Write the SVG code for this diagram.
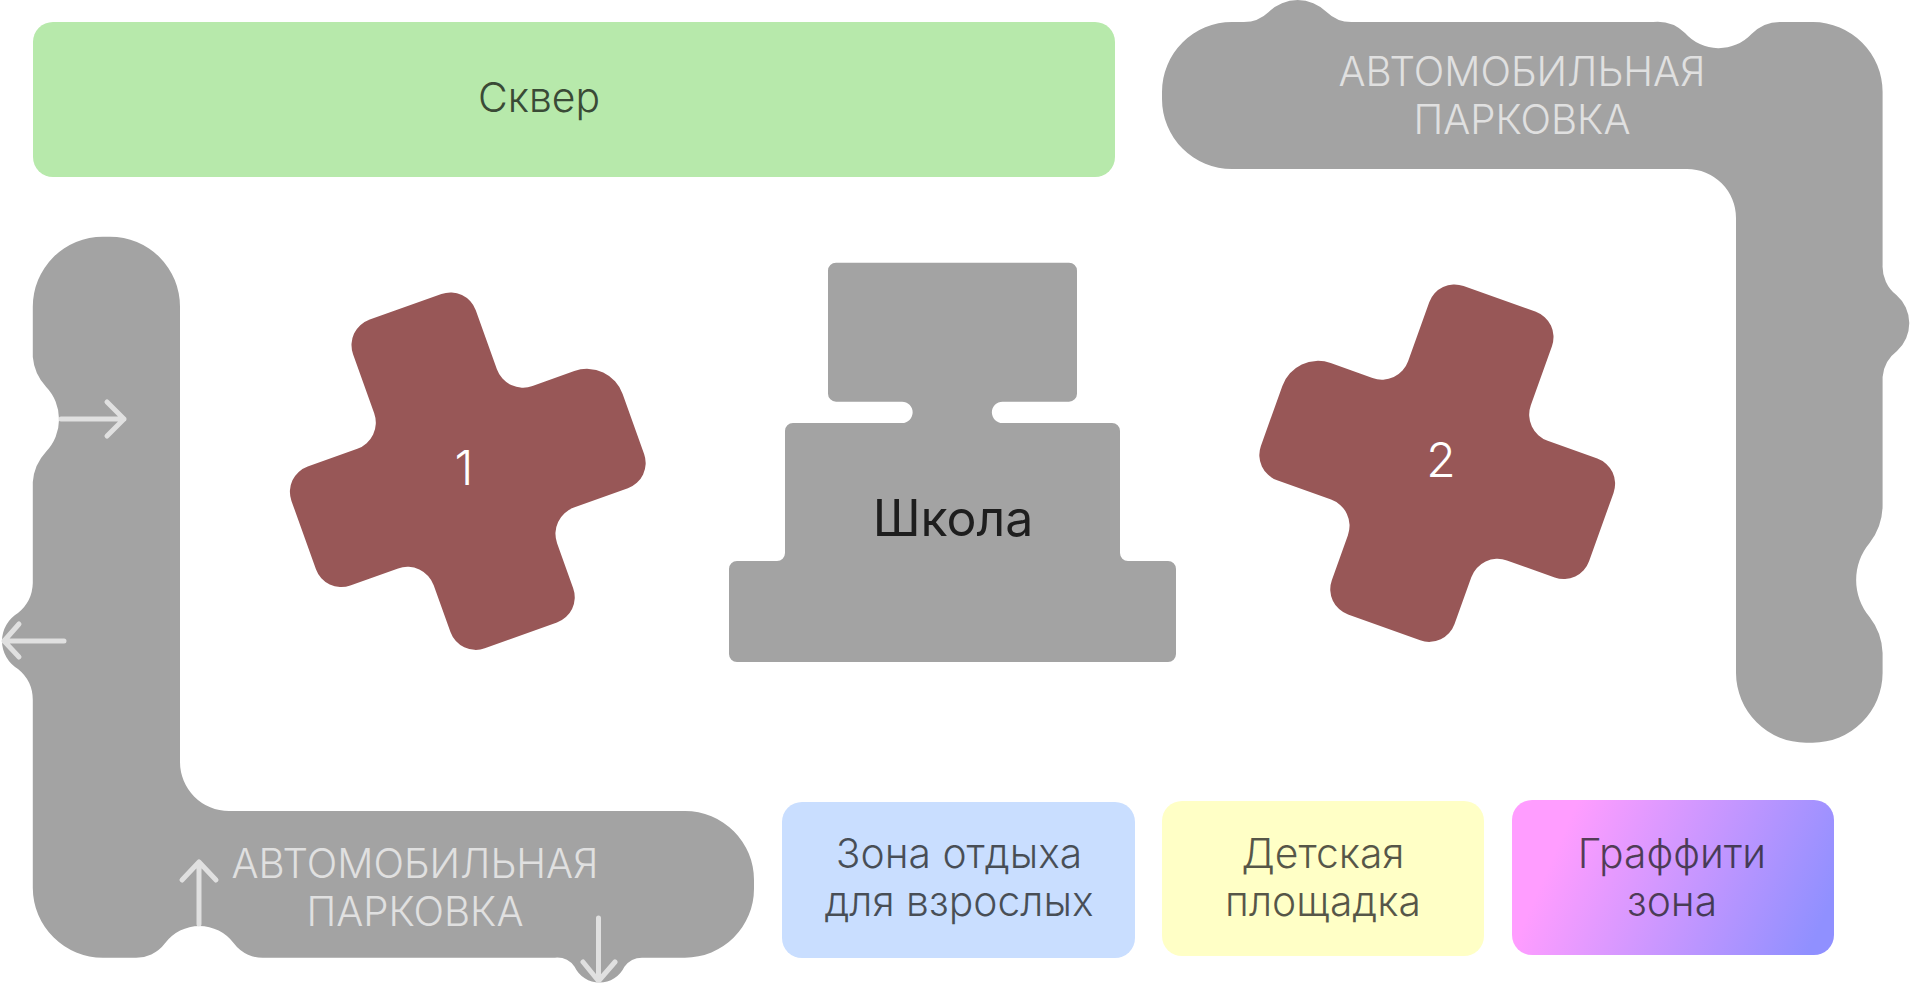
<svg xmlns="http://www.w3.org/2000/svg" xmlns:xlink="http://www.w3.org/1999/xlink" width="1910" height="983" viewBox="0 0 1910 983">
<style>
text{font-family:Inter,"Noto Sans",sans-serif;text-anchor:middle;font-weight:400}
.gray{fill:#a3a3a3}
.cross{fill:#985757}
.lbl{font-size:40.800px;font-weight:300}
.park{font-size:40.200px;font-weight:300;fill:#e0e0e0}
.num{font-size:48px;font-weight:300;fill:#fff}
.dark{fill:#1e1e1e;fill-opacity:.75}
.arr{fill:none;stroke:#e0e0e0;stroke-width:5;stroke-linecap:round;stroke-linejoin:round}
</style>
<defs>
<linearGradient id="gr" gradientUnits="userSpaceOnUse" x1="1560" y1="840" x2="1810" y2="950"><stop offset="0" stop-color="#ff9dff"/><stop offset="1" stop-color="#9090ff"/></linearGradient>
<path id="plus" d="M-46,-177H35A27,27 0 0 1 62,-150V-87A28,28 0 0 0 90,-59H134.600A38,38 0 0 1 172.600,-21V43A27,27 0 0 1 145.600,70H88A28,28 0 0 0 60,98V146A27,27 0 0 1 33,173H-44A27,27 0 0 1 -71,146V96A28,28 0 0 0 -99,68H-150A27,27 0 0 1 -177,41V-32A27,27 0 0 1 -150,-59H-97A28,28 0 0 0 -69,-87V-150A27,27 0 0 1 -42,-177Z"/>
</defs>
<rect width="1910" height="983" fill="#fff"/>
<g id="square">
<rect x="33" y="22" width="1082" height="155" rx="20" fill="#b7e9ab"/>
<text class="lbl" x="539" y="112" fill="#3a4a36">Сквер</text>
</g>
<g id="parking-top">
<path class="gray" d="M1232,22H1243A36,36 0 0 0 1268.700,12A41,41 0 0 1 1326.600,12A36,36 0 0 0 1354,22H1653A40,40 0 0 1 1685,33A45,45 0 0 0 1751.500,34A40,40 0 0 1 1783,22H1813A70,70 0 0 1 1882.600,92V265A36,36 0 0 0 1896.400,295A37.500,37.500 0 0 1 1897,351A36,36 0 0 0 1882.600,377V505A62,62 0 0 1 1869.600,543A57.600,57.600 0 0 0 1869.600,617A62,62 0 0 1 1882.600,653V673A70,70 0 0 1 1812.600,742.700H1806A70,70 0 0 1 1736,673V218A49,49 0 0 0 1687,169H1232A70,70 0 0 1 1162,99V92A70,70 0 0 1 1232,22Z"/>
<text class="park" x="1522" y="86">АВТОМОБИЛЬНАЯ</text>
<text class="park" x="1522" y="134">ПАРКОВКА</text>
</g>
<g id="parking-bottom">
<path class="gray" d="M103,236.700H110A70,70 0 0 1 180,307V762A49,49 0 0 0 229,811H685A69,69 0 0 1 754,880V888.700A69,69 0 0 1 685,957.700H642A22,22 0 0 0 624.400,966.700A27.500,27.500 0 0 1 574.600,966.700A22,22 0 0 0 555,957.700H266A36,36 0 0 1 233.800,943.300A42.800,42.800 0 0 0 165,943.300A36,36 0 0 1 134,957.700H103A70,70 0 0 1 32.800,888V700A40,40 0 0 0 18,669A32.500,32.500 0 0 1 18,613A40,40 0 0 0 32.800,583V482A50,50 0 0 1 46,451.700A47,47 0 0 0 46,386.700A50,50 0 0 1 32.800,357V307A70,70 0 0 1 103,236.700Z"/>
<text class="park" x="415" y="878">АВТОМОБИЛЬНАЯ</text>
<text class="park" x="415" y="926">ПАРКОВКА</text>
</g>
<g id="connectors">
<path class="arr" d="M61,419H124M107,402L124,419L107,436"/>
<path class="arr" d="M64,641H4M19,624L4,641L19,657"/>
<path class="arr" d="M199,924V862M182,880L199,862L216,880"/>
<path class="arr" d="M598.500,918V981M583,962L598.500,981L615,962"/>
</g>
<g id="building-1">
<use xlink:href="#plus" href="#plus" class="cross" transform="translate(468 471.500) rotate(-19.700) scale(.995)"/>
<text class="num" x="464" y="485">1</text>
</g>
<g id="school">
<path class="gray" d="M836,262.700H1069A8,8 0 0 1 1077,270.700V393.700A8,8 0 0 1 1069,401.700H1002.500A10.650,10.650 0 0 0 1002.500,423H1112A8,8 0 0 1 1120,431V553A8,8 0 0 0 1128,561H1168A8,8 0 0 1 1176,569V654A8,8 0 0 1 1168,662H737A8,8 0 0 1 729,654V569A8,8 0 0 1 737,561H777A8,8 0 0 0 785,553V431A8,8 0 0 1 793,423H902A10.650,10.650 0 0 0 902,401.700H836A8,8 0 0 1 828,393.700V270.700A8,8 0 0 1 836,262.700Z"/>
<text x="953" y="535.700" font-size="50" font-weight="300" fill="#1e1e1e">Школа</text>
</g>
<g id="building-2">
<use xlink:href="#plus" href="#plus" class="cross" transform="translate(1437 463.500) scale(-1 1) rotate(-19.700) scale(.995)"/>
<text class="num" x="1441" y="476.700">2</text>
</g>
<g id="zone-adults">
<rect x="782" y="802" width="353" height="156" rx="20" fill="#c9deff"/>
<text class="lbl dark" x="959" y="868">Зона отдыха</text>
<text class="lbl dark" x="959" y="916">для взрослых</text>
</g>
<g id="zone-kids">
<rect x="1162" y="801" width="322" height="155" rx="20" fill="#ffffc6"/>
<text class="lbl dark" x="1323" y="868">Детская</text>
<text class="lbl dark" x="1323" y="916">площадка</text>
</g>
<g id="zone-graffiti">
<rect x="1512" y="800" width="322" height="155" rx="20" fill="url(#gr)"/>
<text class="lbl dark" x="1672" y="868">Граффити</text>
<text class="lbl dark" x="1672" y="916">зона</text>
</g>
</svg>
